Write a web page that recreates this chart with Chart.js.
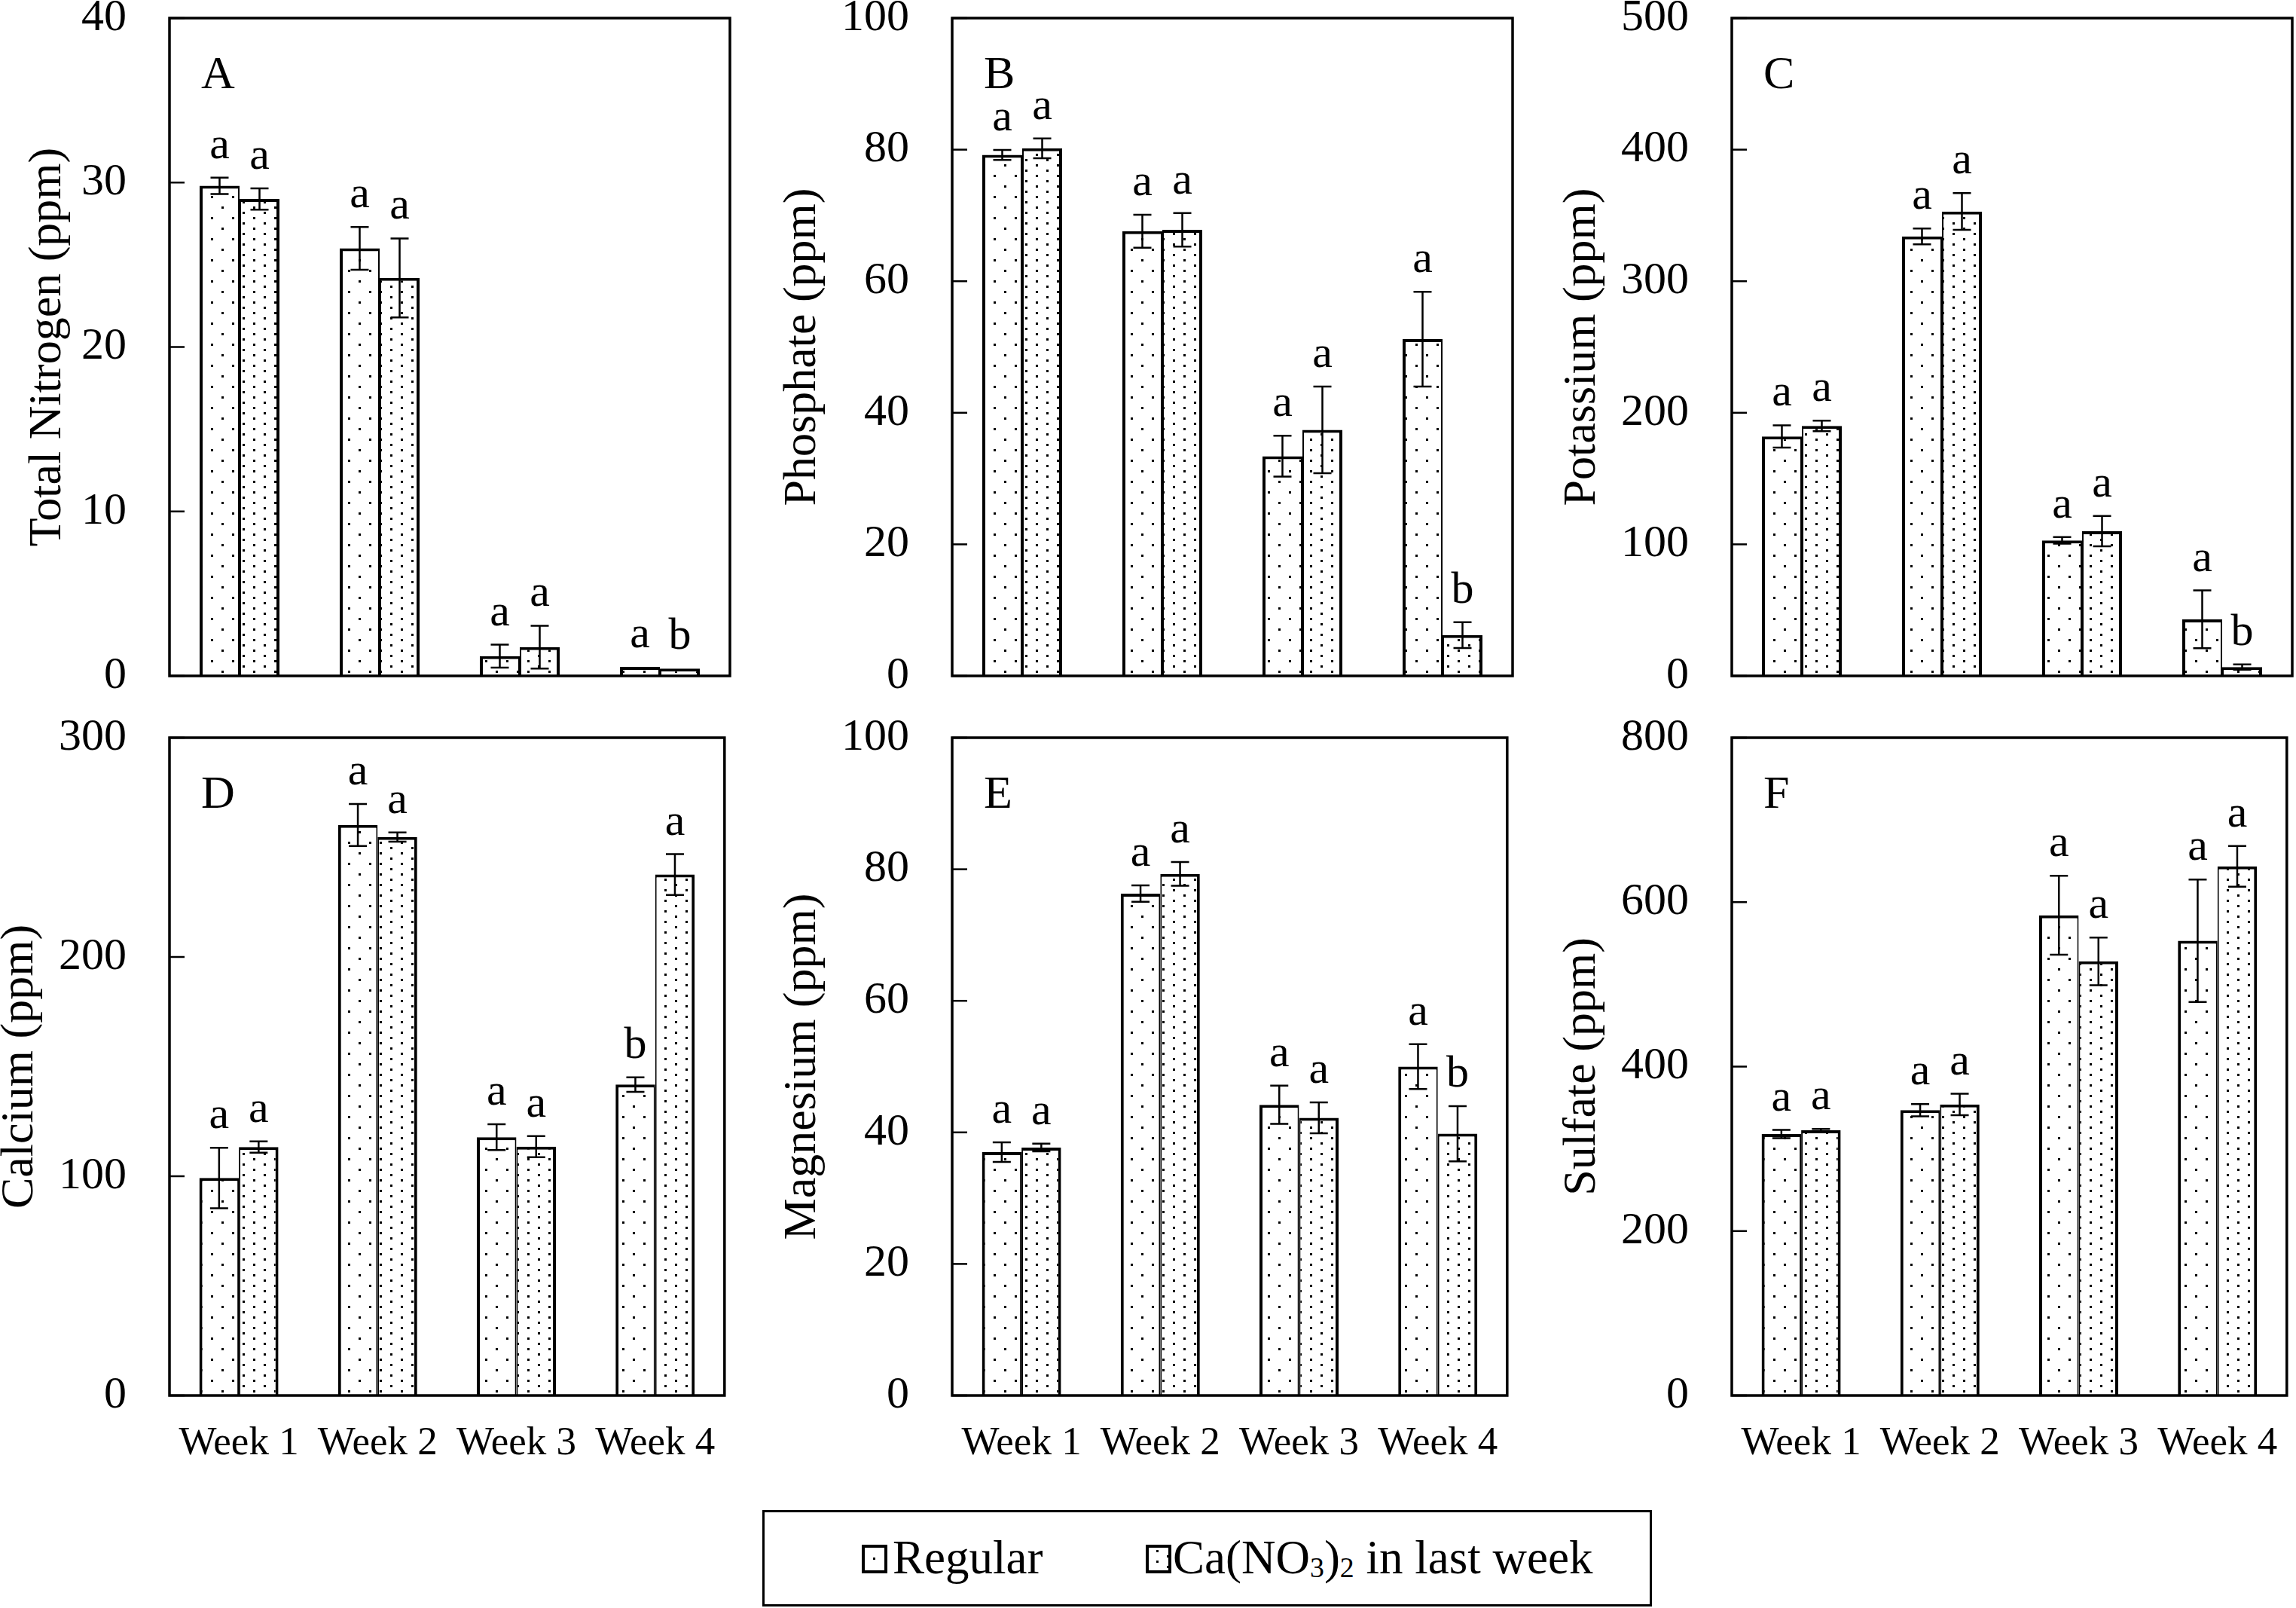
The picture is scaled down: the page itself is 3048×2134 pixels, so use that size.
<!DOCTYPE html>
<html lang="en">
<head>
<meta charset="UTF-8">
<title>Nutrient concentrations by week</title>
<script src="https://cdn.jsdelivr.net/npm/chart.js"></script>
<style>
    body {
        margin: 0;
        width: 3048px;
        height: 2134px;
        position: relative;
        overflow: hidden;
        background: #fff;
        font-family: "Liberation Serif", "Times New Roman", serif;
    }
    .panel { position: absolute; }
    #legend {
        position: absolute;
        left: 1012px;
        top: 2004px;
        width: 1181px;
        height: 128px;
        border: 3px solid #000;
        box-sizing: border-box;
    }
    #legend canvas, #legend span.txt { position: absolute; }
    #legend span.txt { font-size: 63px; line-height: 63px; white-space: nowrap; color: #000; }
    #legend sub { font-size: 0.6em; vertical-align: baseline; position: relative; top: 0.12em; }
</style>
</head>
<body>
<div id="charts"></div>
<div id="legend">
    <canvas id="swReg" width="34" height="38" style="left:129px; top:43px;"></canvas>
    <span class="txt" style="left:170px; top:29px;">Regular</span>
    <canvas id="swCa" width="34" height="38" style="left:506px; top:43px;"></canvas>
    <span class="txt" style="left:542px; top:29px;">Ca(NO<sub>3</sub>)<sub>2</sub> in last week</span>
</div>

<script>
    Chart.defaults.font.family = '"Liberation Serif", "Times New Roman", serif';
    Chart.defaults.color = '#000';

    const weeks = ['Week 1', 'Week 2', 'Week 3', 'Week 4'];
    const seriesNames = ['Regular', 'Ca(NO₃)₂ in last week'];

    // A: total nitrogen
    const nitrogenTicks = [0, 10, 20, 30, 40];
    const nitrogenReg = [29.8, 26.0, 1.2, 0.55];
    const nitrogenRegSE = [0.5, 1.3, 0.7, 0];
    const nitrogenCa = [29.0, 24.2, 1.75, 0.45];
    const nitrogenCaSE = [0.65, 2.4, 1.3, 0];
    const nitrogenRegLetters = ['a', 'a', 'a', 'a'];
    const nitrogenCaLetters = ['a', 'a', 'a', 'b'];

    // B: phosphate
    const phosphateTicks = [0, 20, 40, 60, 80, 100];
    const phosphateReg = [79.2, 67.6, 33.4, 51.2];
    const phosphateRegSE = [0.75, 2.5, 3.1, 7.2];
    const phosphateCa = [80.2, 67.8, 37.4, 6.2];
    const phosphateCaSE = [1.5, 2.55, 6.6, 1.95];
    const phosphateRegLetters = ['a', 'a', 'a', 'a'];
    const phosphateCaLetters = ['a', 'a', 'a', 'b'];

    // C: potassium
    const potassiumTicks = [0, 100, 200, 300, 400, 500];
    const potassiumReg = [182, 334, 103, 43];
    const potassiumRegSE = [8.5, 6, 2.5, 22];
    const potassiumCa = [190, 353, 110, 6.7];
    const potassiumCaSE = [4, 14, 11.5, 2];
    const potassiumRegLetters = ['a', 'a', 'a', 'a'];
    const potassiumCaLetters = ['a', 'a', 'a', 'b'];

    // D: calcium
    const calciumTicks = [0, 100, 200, 300];
    const calciumReg = [99.2, 260.2, 117.8, 141.8];
    const calciumRegSE = [13.8, 9.6, 5.9, 3.3];
    const calciumCa = [113.3, 254.7, 113.5, 237.6];
    const calciumCaSE = [2.6, 2.1, 4.8, 9.3];
    const calciumRegLetters = ['a', 'a', 'a', 'b'];
    const calciumCaLetters = ['a', 'a', 'a', 'a'];

    // E: magnesium
    const magnesiumTicks = [0, 20, 40, 60, 80, 100];
    const magnesiumReg = [37.0, 76.3, 44.2, 50.0];
    const magnesiumRegSE = [1.5, 1.25, 2.9, 3.4];
    const magnesiumCa = [37.7, 79.3, 42.2, 39.8];
    const magnesiumCaSE = [0.6, 1.8, 2.35, 4.2];
    const magnesiumRegLetters = ['a', 'a', 'a', 'a'];
    const magnesiumCaLetters = ['a', 'a', 'a', 'b'];

    // F: sulfate
    const sulfateTicks = [0, 200, 400, 600, 800];
    const sulfateReg = [318, 347, 584, 553];
    const sulfateRegSE = [5, 7.5, 48, 74.5];
    const sulfateCa = [322.6, 354, 528, 643.5];
    const sulfateCaSE = [1.5, 13, 29, 24.7];
    const sulfateRegLetters = ['a', 'a', 'a', 'a'];
    const sulfateCaLetters = ['a', 'a', 'a', 'a'];

    const panels = [
        { tag: 'A', title: 'Total Nitrogen (ppm)', ticks: nitrogenTicks, reg: nitrogenReg, regSE: nitrogenRegSE, ca: nitrogenCa, caSE: nitrogenCaSE, regL: nitrogenRegLetters, caL: nitrogenCaLetters },
        { tag: 'B', title: 'Phosphate (ppm)', ticks: phosphateTicks, reg: phosphateReg, regSE: phosphateRegSE, ca: phosphateCa, caSE: phosphateCaSE, regL: phosphateRegLetters, caL: phosphateCaLetters },
        { tag: 'C', title: 'Potassium (ppm)', ticks: potassiumTicks, reg: potassiumReg, regSE: potassiumRegSE, ca: potassiumCa, caSE: potassiumCaSE, regL: potassiumRegLetters, caL: potassiumCaLetters },
        { tag: 'D', title: 'Calcium (ppm)', ticks: calciumTicks, reg: calciumReg, regSE: calciumRegSE, ca: calciumCa, caSE: calciumCaSE, regL: calciumRegLetters, caL: calciumCaLetters },
        { tag: 'E', title: 'Magnesium (ppm)', ticks: magnesiumTicks, reg: magnesiumReg, regSE: magnesiumRegSE, ca: magnesiumCa, caSE: magnesiumCaSE, regL: magnesiumRegLetters, caL: magnesiumCaLetters },
        { tag: 'F', title: 'Sulfate (ppm)', ticks: sulfateTicks, reg: sulfateReg, regSE: sulfateRegSE, ca: sulfateCa, caSE: sulfateCaSE, regL: sulfateRegLetters, caL: sulfateCaLetters }
    ];

    // page geometry (plot boxes)
    const colLeft = [225, 1264, 2299];
    const rowTop = [24, 979];
    const plotW = 744, plotH = 873;
    // y tick padding is also added above/below the axis by chart.js, so keep the pads bigger than it
    const axisW = 225, padTop = 100, padRight = 14;

    // dot fills
    function dotPattern(w, h, dots) {
        const c = document.createElement('canvas');
        c.width = w; c.height = h;
        const g = c.getContext('2d');
        g.fillStyle = '#fff';
        g.fillRect(0, 0, w, h);
        g.fillStyle = '#000';
        dots.forEach(([x, y]) => g.fillRect(x, y, 3, 3));
        return g.createPattern(c, 'repeat');
    }
    const sparseDots = dotPattern(28, 28, [[0, 0], [14, 14]]);
    const denseDots = dotPattern(28, 14, [[0, 0], [14, 7]]);

    const decor = {
        id: 'decor',
        afterDatasetsDraw(chart) {
            const ctx = chart.ctx, y = chart.scales.y;
            ctx.save();
            ctx.strokeStyle = '#000';
            ctx.fillStyle = '#000';
            ctx.lineWidth = 2.5;
            ctx.font = '60px "Liberation Serif"';
            ctx.textAlign = 'center';
            ctx.textBaseline = 'alphabetic';
            chart.data.datasets.forEach((ds, d) => {
                chart.getDatasetMeta(d).data.forEach((bar, i) => {
                    const v = ds.data[i], e = ds.se[i];
                    const top = y.getPixelForValue(v + e);
                    const bot = y.getPixelForValue(v - e);
                    if (e > 0) {
                        ctx.beginPath();
                        ctx.moveTo(bar.x, top); ctx.lineTo(bar.x, bot);
                        ctx.moveTo(bar.x - 12, top); ctx.lineTo(bar.x + 12, top);
                        ctx.moveTo(bar.x - 12, bot); ctx.lineTo(bar.x + 12, bot);
                        ctx.stroke();
                    }
                    ctx.fillText(ds.letters[i], bar.x, top - 26);
                });
            });
            ctx.restore();
        },
        afterDraw(chart) {
            const ctx = chart.ctx, a = chart.chartArea, y = chart.scales.y;
            ctx.save();
            ctx.strokeStyle = '#000';
            ctx.lineWidth = 2.5;
            y.ticks.forEach(t => {
                const py = y.getPixelForValue(t.value);
                ctx.beginPath();
                ctx.moveTo(a.left, py);
                ctx.lineTo(a.left + 20, py);
                ctx.stroke();
            });
            ctx.lineWidth = 3.5;
            ctx.strokeRect(a.left, a.top, a.right - a.left, a.bottom - a.top);
            ctx.fillStyle = '#000';
            ctx.font = '62px "Liberation Serif"';
            ctx.textAlign = 'left';
            ctx.textBaseline = 'alphabetic';
            ctx.fillText(chart.options.plugins.decor.tag, a.left + 42, a.top + 93);
            ctx.restore();
        }
    };

    const holder = document.getElementById('charts');
    panels.forEach((p, n) => {
        const col = n % 3, row = Math.floor(n / 3);
        const bottomRow = row === 1;
        const xH = bottomRow ? 110 : 0;
        const padBottom = bottomRow ? 0 : 100;
        const canvas = document.createElement('canvas');
        canvas.className = 'panel';
        canvas.width = axisW + plotW + padRight;
        canvas.height = padTop + plotH + xH + padBottom;
        canvas.style.left = (colLeft[col] - axisW) + 'px';
        canvas.style.top = (rowTop[row] - padTop) + 'px';
        holder.appendChild(canvas);

        new Chart(canvas, {
            type: 'bar',
            data: {
                labels: weeks,
                datasets: [
                    {
                        label: seriesNames[0],
                        data: p.reg,
                        se: p.regSE,
                        letters: p.regL,
                        backgroundColor: sparseDots,
                        borderColor: '#000',
                        borderWidth: { top: 4, left: 4, right: 2, bottom: 0 },
                        borderSkipped: 'bottom'
                    },
                    {
                        label: seriesNames[1],
                        data: p.ca,
                        se: p.caSE,
                        letters: p.caL,
                        backgroundColor: denseDots,
                        borderColor: '#000',
                        borderWidth: { top: 4, left: 2, right: 4, bottom: 0 },
                        borderSkipped: 'bottom'
                    }
                ]
            },
            options: {
                responsive: false,
                animation: false,
                devicePixelRatio: 1,
                layout: { padding: { top: padTop, right: padRight, bottom: padBottom, left: 0 } },
                datasets: { bar: { categoryPercentage: 0.57, barPercentage: 1.0 } },
                plugins: {
                    legend: { display: false },
                    tooltip: { enabled: false },
                    decor: { tag: p.tag }
                },
                scales: {
                    x: {
                        offset: true,
                        grid: { display: false, drawTicks: false },
                        border: { display: false },
                        ticks: {
                            display: bottomRow,
                            font: { size: 53 },
                            padding: 32,
                            maxRotation: 0,
                            autoSkip: false
                        },
                        afterFit(scale) { scale.height = xH; }
                    },
                    y: {
                        min: p.ticks[0],
                        max: p.ticks[p.ticks.length - 1],
                        grid: { display: false, drawTicks: false },
                        border: { display: false },
                        ticks: {
                            stepSize: p.ticks[1] - p.ticks[0],
                            font: { size: 60 },
                            padding: 57
                        },
                        title: {
                            display: true,
                            text: p.title,
                            font: { size: 62, lineHeight: 1 },
                            padding: { top: p.tag === 'A' ? 33 : -4, bottom: 0 }
                        },
                        afterFit(scale) { scale.width = axisW; }
                    }
                }
            },
            plugins: [decor]
        });
    });

    // legend swatches
    function swatch(id, pattern) {
        const c = document.getElementById(id);
        const g = c.getContext('2d');
        g.fillStyle = pattern;
        g.fillRect(0, 0, c.width, c.height);
        g.strokeStyle = '#000';
        g.lineWidth = 4;
        g.strokeRect(2, 2, c.width - 4, c.height - 4);
    }
    swatch('swReg', dotPattern(34, 38, [[15, 17]]));
    swatch('swCa', denseDots);
</script>
</body>
</html>
